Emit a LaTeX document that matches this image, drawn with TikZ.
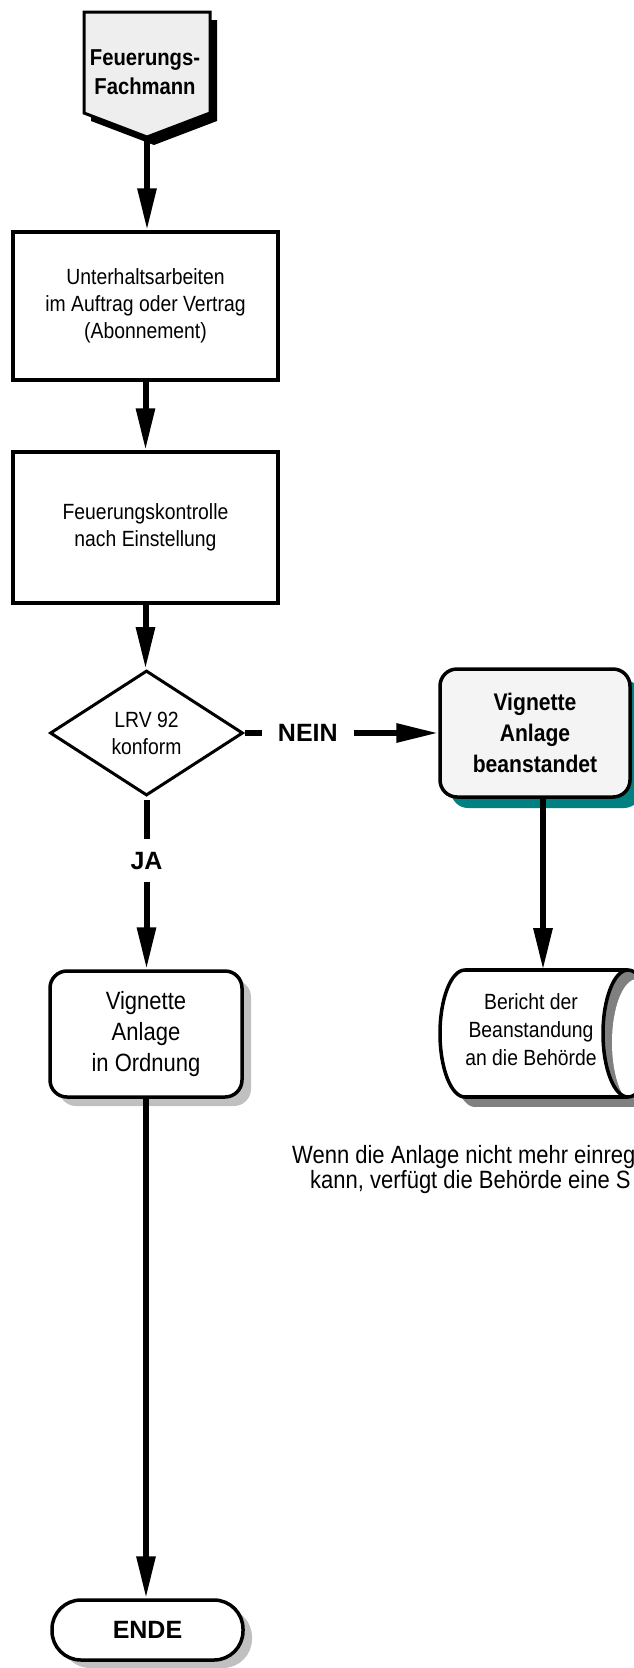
\documentclass[tikz,border=0pt]{standalone}
\usepackage{fontspec}
\setmainfont[FakeStretch=0.88]{Liberation Sans}
\newfontfamily\wideface{Liberation Sans}
\usetikzlibrary{arrows.meta,shapes.geometric,shadows}
\definecolor{shadeteal}{HTML}{008080}
\definecolor{shadelight}{HTML}{C0C0C0}
\definecolor{shademid}{HTML}{808080}
\definecolor{paleface}{HTML}{EEEEEE}
\definecolor{boxface}{HTML}{F4F4F4}
\begin{document}
\begin{tikzpicture}[x=1pt, y=-1pt, >={Triangle[length=42pt,width=18pt]},
	flow/.style={->, line width=6pt},
	plainbox/.style={draw, line width=3.5pt, minimum width=265pt, align=center, font=\fontsize{22}{27}\selectfont},
	roundbox/.style={draw, line width=3.5pt, fill=white, rounded corners=17pt, align=center, minimum width=192pt, minimum height=126pt},
	tag/.style={fill=white, font=\wideface\bfseries\fontsize{25}{25}\selectfont}]
		\def\rx{25pt} \def\ry{63.5pt}
		\def\bl{465} \def\br{628} \def\bt{970} \def\bb{1097} \def\bc{1033.5}
		%	\draw[color=gray!50,dashed] (0,0) grid[step=50] (633,1668);
		\useasboundingbox (0,0) rectangle (633,1668);
		% start
		\fill[black] (91,20)--(217,20)--(217,121)--(154,145)--(91,121)--cycle;
		\filldraw[fill=paleface, line width=3pt] (84,12)--(210,12)--(210,113)--(147,137)--(84,113)--cycle;
		\node[font=\bfseries\fontsize{23}{29}\selectfont, align=center] (fm) at (145,72) {Feuerungs-\\Fachmann};
		\coordinate (fm-tip) at (147,137);
		% left column
		\node[plainbox, minimum height=148pt] (unterhalt) at (145.5,306) {Unterhaltsarbeiten\\im Auftrag oder Vertrag\\(Abonnement)};
		\node[plainbox, minimum height=151pt] (kontrolle) at (145.5,527.5) {Feuerungskontrolle\\nach Einstellung};
		\node[diamond, draw, line width=3pt, aspect=1.544, minimum width=193pt, minimum height=125pt, inner sep=0pt, align=center, font=\fontsize{22}{27}\selectfont] (lrv) at (146.5,733) {LRV 92\\konform};
		\node[roundbox, drop shadow={shadow xshift=9pt, shadow yshift=-9pt, fill=shadelight, opacity=1}, font=\fontsize{25}{31}\selectfont] (ordnung) at (146,1034) {Vignette\\Anlage\\in Ordnung};
		\node[roundbox, rounded corners=29pt, minimum width=191pt, minimum height=60pt, drop shadow={shadow xshift=9pt, shadow yshift=-8pt, fill=shadelight, opacity=1}, font=\wideface\bfseries\fontsize{25}{25}\selectfont] (ende) at (147.5,1630) {ENDE};
		% right column
		\node[roundbox, fill=boxface, minimum width=190pt, minimum height=128pt, drop shadow={shadow xshift=11pt, shadow yshift=-11pt, fill=shadeteal, opacity=1}, font=\bfseries\fontsize{24}{31}\selectfont] (beanst) at (535,733) {Vignette\\Anlage\\beanstandet};
		\begin{scope}[shift={(10,10)}]
			\fill[shademid] (\bl,\bc) ellipse[x radius=\rx, y radius=\ry];
			\fill[shademid] (\bl,\bt) rectangle (\br,\bb);
			\fill[shademid] (\br,\bc) ellipse[x radius=\rx, y radius=\ry];
		\end{scope}
		\fill[white] (\bl,\bc) ellipse[x radius=\rx, y radius=\ry];
		\fill[white] (\bl,\bt) rectangle (\br,\bb);
		\begin{scope}
			\clip (0,0) rectangle (\bl,1668);
			\draw[line width=3.5pt] (\bl,\bc) ellipse[x radius=\rx, y radius=\ry];
		\end{scope}
		\draw[line width=3.5pt] (\bl,\bt) -- (\br,\bt) (\bl,\bb) -- (\br,\bb);
		\begin{scope}
			\clip (\br,\bc) ellipse[x radius=\rx, y radius=\ry];
			\fill[shademid] (\br,\bc) ellipse[x radius=\rx, y radius=\ry];
			\fill[white] (\br+9,\bc+9) ellipse[x radius=\rx, y radius=\ry];
		\end{scope}
		\draw[line width=3.5pt] (\br,\bc) ellipse[x radius=\rx, y radius=\ry];
		\node[font=\fontsize{22}{28}\selectfont, align=center] (ber) at (531,1030) {Bericht der\\Beanstandung\\an die Behörde};
		\coordinate (ber-top) at (543,\bt);
		\node[anchor=base west, inner sep=0pt, font=\fontsize{25}{25}\selectfont] (note1) at (292,1163) {Wenn die Anlage nicht mehr einreg};
		\node[anchor=base west, inner sep=0pt, font=\fontsize{25}{25}\selectfont] (note2) at (310,1188) {kann, verfügt die Behörde eine S};
		% connectors
		\draw[flow] (fm-tip) -- (fm-tip |- unterhalt.north);
		\draw[flow] (unterhalt.south) -- (kontrolle.north);
		\draw[flow] (kontrolle.south) -- (kontrolle.south |- lrv.north);
		\draw[flow] (lrv.east) -- node[tag, pos=0.327, inner xsep=16pt, inner ysep=4pt] (nein) {NEIN} (lrv.east -| beanst.west);
		\draw[flow, shorten <=3pt] (lrv.south) -- node[tag, pos=0.37, inner ysep=13pt, inner xsep=4pt] (ja) {JA} (lrv.south |- ordnung.north);
		\draw[flow] (ber-top |- beanst.south) -- (ber-top);
		\draw[flow] (ordnung.south) -- (ordnung.south |- ende.north);
\end{tikzpicture}
\end{document}
